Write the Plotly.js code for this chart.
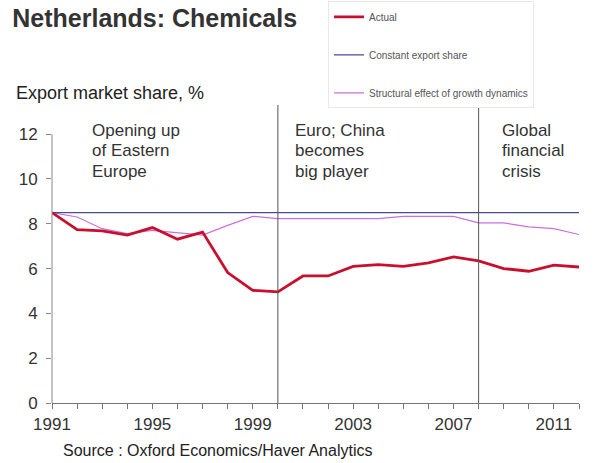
<!DOCTYPE html>
<html>
<head>
<meta charset="utf-8">
<script src="https://cdn.plot.ly/plotly-3.0.1.min.js"></script>
<style>html,body{margin:0;padding:0;background:#fff;}#chart{width:613px;height:463px;}</style>
</head>
<body>
<div id="chart"></div>
<script>
const years = [1991,1992,1993,1994,1995,1996,1997,1998,1999,2000,2001,2002,2003,2004,2005,2006,2007,2008,2009,2010,2011,2012];
const actual = [8.5,7.74,7.68,7.49,7.83,7.31,7.63,5.82,5.03,4.96,5.67,5.67,6.10,6.18,6.10,6.25,6.52,6.34,6.00,5.88,6.15,6.07];
const constantShare = [8.5,8.5,8.5,8.5,8.5,8.5,8.5,8.5,8.5,8.5,8.5,8.5,8.5,8.5,8.5,8.5,8.5,8.5,8.5,8.5,8.5,8.5];
const structural = [8.5,8.30,7.78,7.56,7.70,7.60,7.49,7.93,8.33,8.23,8.23,8.23,8.25,8.23,8.33,8.33,8.33,8.04,8.04,7.86,7.78,7.52];
const xTickLabels = [1991,1995,1999,2003,2007,2011];
const yTickVals = [0,2,4,6,8,10,12];
const periodBreaks = [2000,2008];
const periodLabels = [["Opening up","of Eastern","Europe"],["Euro; China","becomes","big player"],["Global","financial","crisis"]];
const periodLabelX = [1992.5,2000.6,2008.85];
const periodLabelY = [12.15,11.25,10.35];

const FONT = "Liberation Sans, Arial, sans-serif";

const traces = [
  {x: years, y: structural, name: "Structural effect of growth dynamics", mode: "lines",
   line: {color: "#cc70d8", width: 1.2}, legendgroup: "c", legendrank: 3},
  {x: years, y: constantShare, name: "Constant export share", mode: "lines",
   line: {color: "#4a4a9a", width: 1.2}, legendgroup: "b", legendrank: 2},
  {x: years, y: actual, name: "Actual", mode: "lines",
   line: {color: "#c8102e", width: 2.8}, legendgroup: "a", legendrank: 1}
];

const shapes = periodBreaks.map(v => ({type: "line", xref: "x", yref: "paper", x0: v, x1: v, y0: 0, y1: 1,
  line: {color: "#555", width: 1}}));
shapes.push({type: "line", xref: "paper", yref: "y", x0: 0, x1: 0, y0: 0, y1: 12, line: {color: "#888", width: 1}});

const annotations = [];
periodLabels.forEach((lines, i) => {
  lines.forEach((t, j) => {
    annotations.push({text: t, x: periodLabelX[i], y: periodLabelY[j], xref: "x", yref: "y",
      xanchor: "left", yanchor: "middle", align: "left", showarrow: false,
      font: {family: FONT, size: 17, color: "#333"}});
  });
});
annotations.push({text: "Export market share, %", xref: "paper", yref: "paper", x: -0.072, y: 1.039,
  xanchor: "left", yanchor: "middle", showarrow: false,
  font: {family: FONT, size: 18, color: "#222"}});
annotations.push({text: "Source : Oxford Economics/Haver Analytics", xref: "paper", yref: "paper", x: 0.018, y: -0.161,
  xanchor: "left", yanchor: "middle", showarrow: false,
  font: {family: FONT, size: 16, color: "#222"}});

const layout = {
  width: 613, height: 463,
  margin: {l: 52, r: 34, t: 105, b: 60, autoexpand: false},
  paper_bgcolor: "#fff", plot_bgcolor: "#fff",
  font: {family: FONT, color: "#333"},
  title: {text: "<b>Netherlands: Chemicals</b>", x: 0.02, xanchor: "left", xref: "container",
    y: 0.96, yanchor: "middle", yref: "container",
    font: {family: FONT, size: 25, color: "#333"}},
  xaxis: {range: [1991, 2012], tickvals: xTickLabels, ticktext: xTickLabels.map(String),
    ticks: "outside", ticklen: 5, tickcolor: "#777", showgrid: false, zeroline: false,
    showline: true, linecolor: "#777", linewidth: 1, ticklabelstandoff: 1,
    minor: {dtick: 1, tick0: 1991, ticks: "outside", ticklen: 5, tickcolor: "#777", showgrid: false},
    tickfont: {size: 17, color: "#333"}},
  yaxis: {range: [0, 13.3], tickvals: yTickVals, ticks: "outside", ticklen: 5, tickcolor: "#888",
    showgrid: false, zeroline: false, showline: false, ticklabelstandoff: 5,
    tickfont: {size: 17, color: "#333"}},
  showlegend: true,
  legend: {x: 0.5237, y: 1.348, xanchor: "left", yanchor: "top", bgcolor: "#fff",
    bordercolor: "#e8e8e8", borderwidth: 1, traceorder: "grouped", tracegroupgap: 19,
    itemwidth: 30, entrywidth: 235, font: {family: FONT, size: 10, color: "#555"}},
  shapes: shapes,
  annotations: annotations
};

Plotly.newPlot("chart", traces, layout, {displayModeBar: false, staticPlot: true});
</script>
</body>
</html>
